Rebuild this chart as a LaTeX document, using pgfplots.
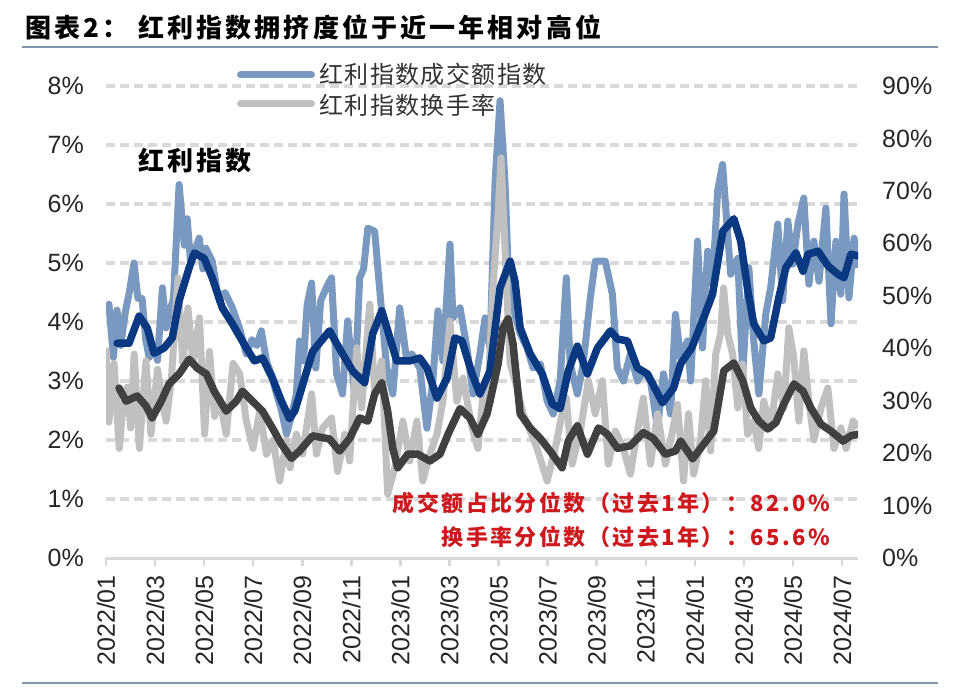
\documentclass[border=0pt]{standalone}
\usepackage{fontspec}
\usepackage{pgfplots}
\pgfplotsset{compat=1.18}
\setmainfont{Liberation Sans}
\newfontfamily\cjktitle[LetterSpace=12]{Noto Sans CJK SC}
\newfontfamily\cjkleg[LetterSpace=6]{Noto Sans CJK SC}
\newfontfamily\cjkred[LetterSpace=11]{Noto Sans CJK SC}

\definecolor{lblue}{RGB}{122,153,192}
\definecolor{navy}{RGB}{10,57,130}
\definecolor{lgray}{RGB}{192,192,192}
\definecolor{dgray}{RGB}{64,64,64}
\definecolor{gridc}{RGB}{217,217,217}
\definecolor{tline}{RGB}{128,150,170}
\definecolor{redc}{RGB}{205,25,30}

\pgfplotsset{
  base/.style={at={(106pt,130pt)}, anchor=south west, scale only axis,
    width=752pt, height=472pt, xmin=0, xmax=30.65},
}

\begin{document}
\begin{tikzpicture}
\fill[white] (0pt,0pt) rectangle (960pt,688pt);
\node[anchor=west,inner sep=0pt] at (25pt,661pt) {\cjktitle\bfseries\fontsize{26}{30}\selectfont 图表2：\hspace{10pt}红利指数拥挤度位于近一年相对高位};
\draw[tline,line width=2.5pt] (22pt,641pt) -- (938pt,641pt);
\draw[tline,line width=2.5pt] (22pt,5pt) -- (938pt,5pt);

% axis 1: left scale, light blue series
\begin{axis}[base, ymin=0, ymax=8,
  axis x line*=bottom, axis y line*=left,
  y axis line style={draw=none},
  x axis line style={gridc, line width=3pt},
  ytick={1,2,3,4,5,6,7,8},
  yticklabels={1\%,2\%,3\%,4\%,5\%,6\%,7\%,8\%},
  extra y ticks={0}, extra y tick labels={0\%}, extra y tick style={grid=none},
  ymajorgrids, major grid style={gridc, line width=4pt, dash pattern=on 9pt off 5pt},
  ytick style={draw=none},
  xtick={0,2,4,6,8,10,12,14,16,18,20,22,24,26,28,30},
  xticklabels={2022/01,2022/03,2022/05,2022/07,2022/09,2022/11,2023/01,2023/03,2023/05,2023/07,2023/09,2023/11,2024/01,2024/03,2024/05,2024/07},
  xtick style={gridc, line width=2.5pt},
  tick align=outside, major tick length=8pt,
  xticklabel shift=9pt, yticklabel shift=14pt,
  xticklabel style={rotate=90, anchor=east, inner sep=0pt, font=\fontsize{25}{25}\selectfont, text=black!85},
  yticklabel style={inner sep=0pt, font=\fontsize{25}{25}\selectfont, text=black!85},
]
\addplot[lblue, line width=7pt, line join=round] coordinates {
(0.00,4.20) (0.12,4.30) (0.30,3.40) (0.45,4.20) (0.60,3.60) (0.80,4.20) (0.95,4.50)
(1.14,5.00) (1.30,4.40) (1.47,4.40) (1.62,3.70) (1.76,3.40) (1.95,3.60) (2.10,3.35)
(2.30,4.58) (2.45,3.90) (2.57,4.13) (2.75,4.40) (2.98,6.33) (3.19,5.30) (3.31,5.75)
(3.45,5.00) (3.60,5.20) (3.80,5.42) (3.95,4.90) (4.07,5.25) (4.33,5.03) (4.50,4.60)
(4.62,4.36) (4.85,4.50) (5.15,4.24) (5.44,3.90) (5.72,3.46) (5.95,3.70) (6.15,3.60)
(6.33,3.85) (6.54,3.34) (6.75,3.10) (6.95,2.78) (7.15,2.50) (7.36,2.10) (7.55,2.40)
(7.76,2.78) (7.89,3.68) (8.05,3.34) (8.20,4.30) (8.38,4.66) (8.55,3.22) (8.75,4.36)
(9.00,4.60) (9.19,4.75) (9.40,3.12) (9.64,2.78) (9.85,4.02) (10.13,2.78) (10.34,4.75)
(10.50,4.90) (10.67,5.59) (10.95,5.54) (11.16,4.53) (11.44,3.22) (11.69,2.78) (11.97,4.24)
(12.26,3.34) (12.46,3.46) (12.79,3.22) (13.08,2.20) (13.32,3.00) (13.53,4.19) (13.73,3.34)
(14.02,5.32) (14.14,4.07) (14.43,4.24) (14.71,3.56) (14.96,2.78) (15.24,3.46) (15.45,4.07)
(15.65,3.56) (15.86,6.39) (16.06,7.75) (16.26,6.39) (16.39,4.92) (16.59,4.24) (16.88,3.80)
(17.16,3.56) (17.41,3.22) (17.70,3.29) (17.98,2.66) (18.23,2.44) (18.51,3.00) (18.76,4.75)
(18.92,3.29) (19.21,2.78) (19.45,3.29) (19.74,4.41) (19.94,5.03) (20.35,5.03) (20.64,4.47)
(20.84,3.22) (21.09,3.00) (21.37,3.46) (21.66,3.00) (21.90,3.17) (22.19,3.00) (22.48,2.20)
(22.72,3.12) (23.01,2.44) (23.21,4.13) (23.42,3.39) (23.70,3.68) (23.83,3.00) (24.11,5.37)
(24.31,3.56) (24.52,5.20) (24.72,4.64) (24.93,6.22) (25.13,6.67) (25.26,5.93) (25.46,4.81)
(25.75,5.08) (25.95,3.12) (26.20,4.92) (26.40,3.68) (26.61,2.78) (26.89,4.13) (27.09,4.58)
(27.38,5.66) (27.58,4.36) (27.79,5.71) (27.99,4.98) (28.20,5.66) (28.44,6.10) (28.65,4.64)
(28.85,5.37) (29.06,4.69) (29.34,5.93) (29.55,3.97) (29.75,5.37) (29.95,4.47) (30.08,6.17)
(30.28,4.41) (30.49,5.42) (30.65,4.92)
};
\end{axis}

% axis 2: right scale, light gray series
\begin{axis}[base, ymin=0, ymax=90,
  axis x line=none, axis y line*=right,
  y axis line style={draw=none},
  ytick={0,10,20,30,40,50,60,70,80,90},
  yticklabels={0\%,10\%,20\%,30\%,40\%,50\%,60\%,70\%,80\%,90\%},
  ytick style={draw=none},
  tick align=outside, major tick length=8pt,
  yticklabel shift=16pt,
  yticklabel style={inner sep=0pt, font=\fontsize{25}{25}\selectfont, text=black!85},
]
\addplot[lgray, line width=7pt, line join=round] coordinates {
(0.00,40.1) (0.12,25.9) (0.33,37.1) (0.54,20.9) (0.70,29.3) (0.88,32.6) (1.00,24.8)
(1.15,38.9) (1.36,20.9) (1.63,37.6) (1.83,23.6) (2.10,36.0) (2.30,29.3) (2.45,26.1)
(2.66,33.8) (2.93,53.4) (3.13,37.1) (3.34,47.7) (3.54,37.1) (3.81,45.8) (4.02,23.6)
(4.22,39.4) (4.43,27.0) (4.63,30.4) (4.90,23.6) (5.18,37.1) (5.45,35.1) (5.72,26.1)
(5.99,20.9) (6.27,28.1) (6.54,19.8) (6.81,22.5) (7.08,14.7) (7.36,22.5) (7.50,17.2)
(7.76,23.6) (8.01,19.8) (8.38,31.3) (8.58,19.8) (8.83,24.8) (9.19,26.7) (9.44,16.5)
(9.73,23.6) (9.93,18.5) (10.22,40.1) (10.42,28.6) (10.75,48.4) (10.95,31.8) (11.24,37.6)
(11.48,12.2) (11.77,17.2) (12.10,26.1) (12.38,18.5) (12.67,26.1) (12.91,14.7) (13.20,19.8)
(13.49,23.6) (13.73,29.9) (14.02,45.2) (14.30,29.9) (14.55,34.3) (14.92,24.8) (15.16,20.9)
(15.35,30.4) (15.53,27.5) (15.77,51.5) (15.98,65.6) (16.10,76.3) (16.26,59.1) (16.47,37.0)
(16.76,32.4) (17.00,27.5) (17.29,24.2) (17.57,20.9) (17.98,14.7) (18.31,20.9) (18.59,27.5)
(18.76,30.5) (19.00,17.9) (19.33,24.2) (19.66,33.8) (19.94,27.5) (20.23,33.8) (20.47,17.9)
(20.76,24.2) (21.09,20.9) (21.37,16.0) (21.66,24.2) (21.90,30.5) (22.19,17.9) (22.48,27.5)
(22.80,17.9) (23.09,24.2) (23.29,29.3) (23.54,14.7) (23.74,27.5) (23.95,16.0) (24.23,22.3)
(24.44,33.8) (24.64,20.4) (24.85,38.9) (25.05,42.8) (25.17,51.5) (25.34,42.8) (25.54,38.9)
(25.75,28.6) (25.95,37.0) (26.15,23.6) (26.40,26.1) (26.60,20.9) (26.81,29.9) (27.09,24.8)
(27.38,35.1) (27.63,28.6) (27.83,43.9) (28.03,38.3) (28.24,26.1) (28.44,39.5) (28.65,29.9)
(28.85,22.5) (29.14,28.6) (29.42,32.4) (29.67,20.9) (29.95,24.8) (30.16,20.9) (30.45,26.1)
(30.65,24.8)
};
\end{axis}

% axis 3: left scale, dark blue moving average
\begin{axis}[base, ymin=0, ymax=8, hide axis]
\addplot[navy, line width=7.5pt, line join=round, line cap=round] coordinates {
(0.45,3.64) (0.94,3.64) (1.35,4.10) (1.68,3.90) (1.96,3.47) (2.37,3.56) (2.70,3.73)
(2.98,4.36) (3.39,4.92) (3.60,5.17) (4.00,5.08) (4.33,4.75) (4.74,4.24) (5.15,3.97)
(5.72,3.56) (6.05,3.34) (6.38,3.39) (6.78,3.05) (7.15,2.66) (7.48,2.36) (7.70,2.50)
(8.42,3.50) (9.11,3.85) (9.64,3.46) (10.05,3.17) (10.54,2.97) (10.87,3.80) (11.24,4.19)
(11.57,3.73) (11.85,3.34) (12.38,3.34) (12.79,3.39) (13.08,3.22) (13.49,2.71) (13.90,3.05)
(14.22,3.73) (14.51,3.68) (14.92,3.12) (15.24,2.78) (15.65,3.17) (16.06,4.58) (16.47,5.03)
(16.67,4.69) (16.88,3.90) (17.29,3.46) (17.78,3.12) (18.19,2.61) (18.51,2.53) (18.84,3.17)
(19.21,3.59) (19.62,3.12) (20.03,3.56) (20.56,3.85) (20.85,3.71) (21.25,3.68) (21.66,3.22)
(22.07,3.12) (22.68,2.63) (23.13,2.88) (23.42,3.29) (23.87,3.56) (24.36,4.07) (24.72,4.47)
(25.14,5.54) (25.59,5.75) (25.87,5.37) (26.16,4.53) (26.40,3.97) (26.81,3.68) (27.09,3.73)
(27.42,4.41) (27.71,4.92) (28.12,5.17) (28.41,4.86) (28.61,5.15) (29.02,5.20) (29.43,4.95)
(29.83,4.81) (30.08,4.75) (30.36,5.15) (30.65,5.12)
};
\end{axis}

% axis 4: right scale, dark gray moving average
\begin{axis}[base, ymin=0, ymax=90, hide axis]
\addplot[dgray, line width=7.5pt, line join=round, line cap=round] coordinates {
(0.53,32.4) (0.82,29.9) (1.27,30.9) (1.63,29.0) (1.88,26.7) (2.25,29.9) (2.57,33.2)
(2.98,35.1) (3.39,37.9) (3.72,36.2) (4.09,35.1) (4.41,31.8) (4.90,28.0) (5.31,29.9)
(5.56,31.8) (5.97,29.9) (6.38,28.0) (6.78,24.8) (7.15,21.7) (7.56,19.0) (7.89,20.4)
(8.42,23.3) (9.11,22.7) (9.52,20.4) (9.93,22.8) (10.34,26.7) (10.67,26.1) (10.95,31.3)
(11.24,33.4) (11.48,28.0) (11.69,20.9) (11.89,17.2) (12.30,19.8) (12.71,19.8) (13.20,18.5)
(13.61,19.8) (13.94,23.6) (14.43,28.5) (14.83,26.7) (15.16,23.6) (15.53,27.5) (15.65,29.9)
(15.98,37.0) (16.18,43.9) (16.39,45.6) (16.59,40.8) (16.88,27.5) (17.29,24.8) (17.70,22.8)
(18.10,20.4) (18.59,17.2) (18.84,22.3) (19.21,25.2) (19.62,19.8) (20.07,24.8) (20.44,23.6)
(20.85,20.9) (21.37,21.4) (21.90,23.9) (22.31,22.8) (22.80,19.8) (23.21,20.4) (23.42,22.3)
(23.91,18.9) (24.36,21.7) (24.77,24.2) (25.18,35.7) (25.59,37.2) (25.95,33.8) (26.28,28.6)
(26.61,26.1) (26.97,24.6) (27.30,25.8) (27.63,29.4) (28.04,33.2) (28.41,31.8) (28.73,28.6)
(29.14,25.5) (29.55,24.2) (30.04,22.3) (30.36,23.3) (30.65,23.6)
};
\end{axis}

% legend
\draw[lblue, line width=7pt, line cap=round] (240.5pt,613pt) -- (311.5pt,613pt);
\draw[lgray, line width=7pt, line cap=round] (240.5pt,584pt) -- (311.5pt,584pt);
\node[anchor=west, inner sep=0pt, text=black!80] at (319pt,614pt) {\cjkleg\fontsize{24}{26}\selectfont 红利指数成交额指数};
\node[anchor=west, inner sep=0pt, text=black!80] at (319pt,583pt) {\cjkleg\fontsize{24}{26}\selectfont 红利指数换手率};

% labels
\node[anchor=west, inner sep=0pt] at (138pt,527pt) {\cjktitle\bfseries\fontsize{26}{30}\selectfont 红利指数};
\node[anchor=east, inner sep=0pt, text=redc] at (830pt,185pt) {\cjkred\bfseries\fontsize{22}{24}\selectfont 成交额占比分位数（过去1年）：82.0\%};
\node[anchor=east, inner sep=0pt, text=redc] at (830pt,151pt) {\cjkred\bfseries\fontsize{22}{24}\selectfont 换手率分位数（过去1年）：65.6\%};

\pgfresetboundingbox
\path[use as bounding box] (0pt,0pt) rectangle (960pt,688pt);
\end{tikzpicture}
\end{document}
